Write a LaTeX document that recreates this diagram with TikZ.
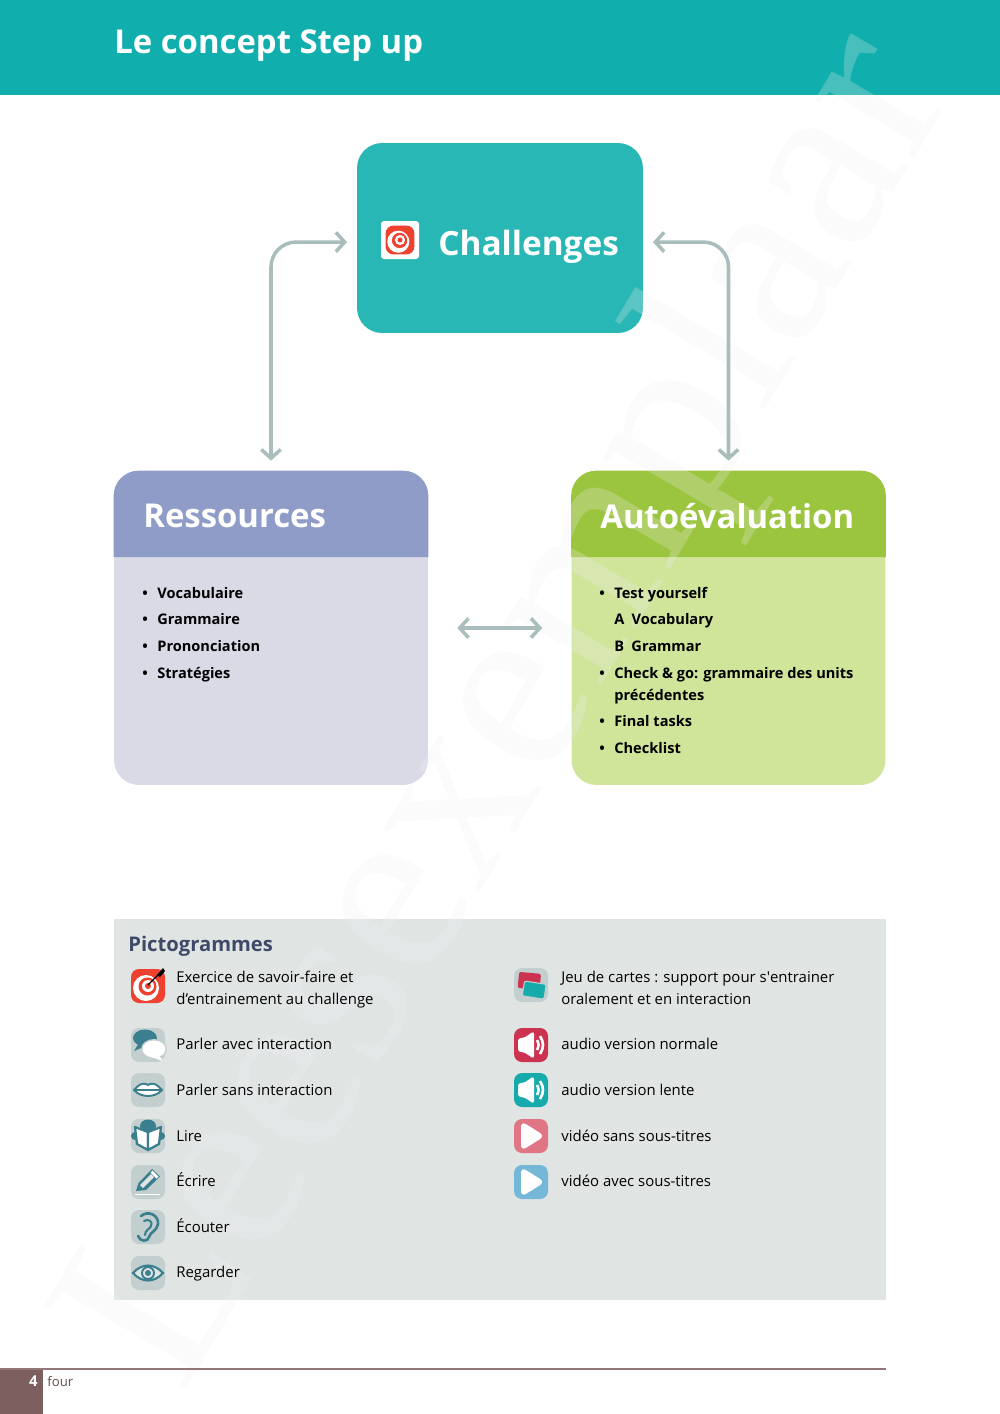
\documentclass[tikz,border=0pt]{standalone}
\usepackage{fontspec}
\setmainfont{Open Sans}
\newfontfamily\markfont{Liberation Serif}
\usetikzlibrary{arrows.meta,calc}
\definecolor{bandteal}{HTML}{10AEAC}
\definecolor{chalteal}{HTML}{29B7B5}
\definecolor{reshead}{HTML}{8F9CC8}
\definecolor{resbody}{HTML}{D9DAE6}
\definecolor{autohead}{HTML}{9BC53F}
\definecolor{autobody}{HTML}{D0E49A}
\definecolor{linkgrey}{HTML}{A9BDBC}
\definecolor{panelgrey}{HTML}{E0E5E4}
\definecolor{pictonavy}{HTML}{3F4A68}
\definecolor{iconbase}{HTML}{C3CFCF}
\definecolor{iconteal}{HTML}{3B7F8E}
\definecolor{targetred}{HTML}{EE4130}
\definecolor{audiored}{HTML}{CB3350}
\definecolor{audioteal}{HTML}{17AAAB}
\definecolor{playrose}{HTML}{E07585}
\definecolor{playblue}{HTML}{74B7D6}
\definecolor{footbrown}{HTML}{7E5F5F}
\tikzset{
  boxbody/.style={rounded corners=.5cm, minimum width=6.28cm, minimum height=6.28cm, inner sep=0pt},
  boxtitle/.style={anchor=west, inner sep=0pt, text=white, font=\fontsize{18.7}{22}\selectfont\bfseries},
  listline/.style={anchor=base west, inner sep=0pt, font=\fontsize{8.3}{10}\selectfont\bfseries},
  pictotext/.style={anchor=base west, inner sep=0pt, font=\fontsize{8.5}{10}\selectfont},
  link/.style={draw=linkgrey, line width=2pt, rounded corners=.5cm, {Straight Barb[length=5pt,width=11pt]}-{Straight Barb[length=5pt,width=11pt]}},
  pics/iconback/.style={code={\fill[#1, rounded corners=.16cm] (-17,-17) rectangle (17,17);}},
  pics/targetmark/.style={code={
    \fill[targetred, rounded corners=.16cm] (-17,-17) rectangle (17,17);
    \fill[white] (-2,2) circle (13);
    \fill[targetred] (-.5,.5) circle (9);
    \fill[white] (0,0) circle (6);
    \fill[targetred] (0,0) circle (3);}},
  pics/speechmark/.style={code={
    \pic {iconback=iconbase};
    \fill[iconteal] (-3,-7) ellipse (12 and 8.5);
    \fill[iconteal] (-9,-2) -- (-14,6) -- (-2,1) -- cycle;
    \fill[iconbase] (6,4) ellipse (13 and 10);
    \fill[white] (6,4) ellipse (11.5 and 8.5);
    \fill[white] (10,9) -- (15,16) -- (3,12) -- cycle;}},
  pics/lipsmark/.style={code={
    \pic {iconback=iconbase};
    \draw[iconteal, fill=white, line width=1.1pt] (-14,0) .. controls (-7,-8) and (-3,-7) .. (0,-5) .. controls (3,-7) and (7,-8) .. (14,0) .. controls (7,8) and (-7,8) .. cycle;
    \draw[iconteal, line width=1.1pt] (-14,0) -- (14,0);}},
  pics/bookmark/.style={code={
    \pic {iconback=iconbase};
    \fill[iconteal] (0,-10) ellipse (8 and 6.5);
    \fill[iconteal] (-13,0) circle (4) (13,0) circle (4);
    \draw[iconteal, fill=white, line width=1.3pt, line join=round] (-13,-9) -- (0,-4) -- (0,14) -- (-11,8) -- cycle;
    \draw[iconteal, fill=white, line width=1.3pt, line join=round] (13,-9) -- (0,-4) -- (0,14) -- (11,8) -- cycle;}},
  pics/pencilmark/.style={code={
    \pic {iconback=iconbase};
    \fill[iconteal, line join=round] (-12,9) -- (-9.5,1) -- (4,-13) -- (12,-5.5) -- (-2,8) -- cycle;
    \fill[panelgrey] (-8,3) -- (3,-8) -- (6,-5) -- (-5,6) -- cycle;
    \fill[white] (4.5,-11.5) -- (10.5,-5.5) -- (8.5,-3.5) -- (2.5,-9.5) -- cycle;
    \draw[white, line width=.8pt] (-13,12.5) -- (12,12.5);}},
  pics/earmark/.style={code={
    \pic {iconback=iconbase};
    \draw[iconteal, line width=1.5pt, line cap=round] (-7,-11) .. controls (0,-17) and (11,-12) .. (10,-3) .. controls (9,4) and (2,5) .. (1,10) .. controls (0,15) and (-8,15) .. (-10,9);
    \draw[iconteal, line width=1.2pt, line cap=round] (-4,-6) .. controls (1,-9) and (5,-5) .. (3,-1) .. controls (2,2) and (-3,3) .. (-3,8);}},
  pics/eyemark/.style={code={
    \pic {iconback=iconbase};
    \draw[iconteal, fill=panelgrey, line width=1.2pt] (-15,0) .. controls (-6,-10) and (6,-10) .. (15,0) .. controls (6,10) and (-6,10) .. cycle;
    \draw[iconteal, line width=1.1pt] (0,0) circle (6);
    \fill[iconteal] (0,0) circle (3);}},
  pics/cardsmark/.style={code={
    \pic {iconback=iconbase};
    \fill[audiored, rounded corners=.04cm, rotate=-5] (-13,-12) rectangle (9,4);
    \draw[iconbase, fill=audioteal, line width=.6pt, rounded corners=.04cm, rotate=-9] (-7,-3) rectangle (15,12);}},
  pics/speakermark/.style={code={
    \pic {iconback=#1};
    \fill[white, rounded corners=.06cm] (-13,-7) -- (-7,-7) -- (3,-14) -- (3,14) -- (-7,7) -- (-13,7) -- cycle;
    \draw[white, line width=1.5pt] (6,-5) .. controls (8,-2) and (8,2) .. (6,5);
    \draw[white, line width=1.5pt] (9,-9) .. controls (13,-3) and (13,3) .. (9,9);}},
  pics/playmark/.style={code={
    \pic {iconback=#1};
    \fill[white, rounded corners=.12cm] (-10,-15) -- (14,0) -- (-10,15) -- cycle;}}
}
\begin{document}
\begin{tikzpicture}[x=0.02cm, y=-0.02cm]
  \useasboundingbox (0,0) rectangle (1000,1414);
  \fill[white] (0,0) rectangle (1000,1414);
  \fill[bandteal] (0,0) rectangle (1000,95);

  \node[boxbody, fill=chalteal, minimum width=5.72cm, minimum height=3.8cm] (challenges) at (500,238) {};
  \node[boxbody, fill=resbody] (ressources) at (271,628) {};
  \fill[reshead] (ressources.west |- 0,557) [rounded corners=.5cm] -- (ressources.north west) -- (ressources.north east) [sharp corners] -- (ressources.east |- 0,557) -- cycle;
  \node[boxbody, fill=autobody] (autoeval) at (728.5,628) {};
  \fill[autohead] (autoeval.west |- 0,557) [rounded corners=.5cm] -- (autoeval.north west) -- (autoeval.north east) [sharp corners] -- (autoeval.east |- 0,557) -- cycle;
  \fill[panelgrey] (114,919) rectangle (886,1300);

  \node[anchor=base west, inner sep=0pt, rotate=59.4, text=gray!12, opacity=.25, font=\markfont\fontsize{142.5}{142.5}\selectfont] (watermark) at (182,1396) {Leesexemplaar};

  \node[anchor=base west, inner sep=0pt, text=white, font=\fontsize{18.7}{22}\selectfont\bfseries] (pagetitle) at (114,53) {Le concept Step up};
  \fill[white, rounded corners=.06cm] (381,221) rectangle (419,259);
  \pic[scale=.85] at (400,240) {targetmark};
  \node[boxtitle, font=\fontsize{19}{22}\selectfont\bfseries] (challengestitle) at (438,247) {Challenges};
  \node[boxtitle] (ressourcestitle) at (143,516) {Ressources};
  \node[boxtitle] (autoevaltitle) at (600,516) {Autoévaluation};

  \foreach \i/\y/\txt in {1/598/Vocabulaire, 2/624/Grammaire, 3/651/Prononciation, 4/678/Stratégies} {
    \node[listline] (resbullet\i) at (142,\y) {•};
    \node[listline] (resline\i) at (157,\y) {\txt};
  }
  \foreach \i/\y in {1/598, 4/678, 6/726, 7/753} {
    \node[listline] (autobullet\i) at (599,\y) {•};
  }
  \foreach \i/\y/\txt in {1/598/Test yourself, 2/624/A\enspace Vocabulary, 3/651/B\enspace Grammar, 4/678/Check \& go: grammaire des units, 5/700/précédentes, 6/726/Final tasks, 7/753/Checklist} {
    \node[listline] (autoline\i) at (614,\y) {\txt};
  }

  \coordinate (resport) at (ressources.east |- 0,628);
  \coordinate (autoport) at (autoeval.west |- 0,628);
  \draw[link, shorten >=5.5pt] ([yshift=5.7pt]ressources.north) |- ([yshift=-2.3pt]challenges.west);
  \draw[link, shorten >=5.5pt] ([yshift=5.7pt]autoeval.north) |- ([yshift=-2.3pt]challenges.east);
  \draw[link, shorten <=16.5pt, shorten >=16.5pt] (resport) -- (autoport);

  \node[anchor=base west, inner sep=0pt, text=pictonavy, font=\fontsize{11.5}{13}\selectfont\bfseries] (pictotitle) at (128,951) {Pictogrammes};

  \pic at (148,986) {targetmark};
  \draw[black, line width=.7pt] (148,985) -- (160,973);
  \fill[black] (157,975) -- (163,968) -- (165,971) -- (160,977) -- cycle;
  \pic at (148,1045) {speechmark};
  \pic at (148,1090) {lipsmark};
  \pic at (148,1136) {bookmark};
  \pic at (148,1182) {pencilmark};
  \pic at (148,1227) {earmark};
  \pic at (148,1273) {eyemark};
  \pic at (531,985) {cardsmark};
  \pic at (531,1045) {speakermark=audiored};
  \pic at (531,1090) {speakermark=audioteal};
  \pic at (531,1136) {playmark=playrose};
  \pic at (531,1182) {playmark=playblue};

  \node[pictotext] (exercice) at (176,982) {Exercice de savoir-faire et};
  \node[pictotext] (exercicetwo) at (176,1004) {d’entrainement au challenge};
  \node[pictotext] (parlerinter) at (176,1049) {Parler avec interaction};
  \node[pictotext] (parlersans) at (176,1095) {Parler sans interaction};
  \node[pictotext] (lire) at (176,1141) {Lire};
  \node[pictotext] (ecrire) at (176,1186) {Écrire};
  \node[pictotext] (ecouter) at (176,1232) {Écouter};
  \node[pictotext] (regarder) at (176,1277) {Regarder};
  \node[pictotext] (jeu) at (561,982) {Jeu de cartes : support pour s\textquotesingle entrainer};
  \node[pictotext] (jeutwo) at (561,1004) {oralement et en interaction};
  \node[pictotext] (audionormale) at (561,1049) {audio version normale};
  \node[pictotext] (audiolente) at (561,1095) {audio version lente};
  \node[pictotext] (videosans) at (561,1141) {vidéo sans sous-titres};
  \node[pictotext] (videoavec) at (561,1186) {vidéo avec sous-titres};

  \fill[footbrown] (0,1369) rectangle (43,1414);
  \draw[footbrown!85!white, line width=.6pt] (0,1369) -- (886,1369);
  \node[anchor=base east, inner sep=0pt, text=white, font=\fontsize{8.5}{10}\selectfont\bfseries] (pagenum) at (38,1386) {4};
  \node[anchor=base west, inner sep=0pt, text=footbrown!80!black, font=\fontsize{7.5}{9}\selectfont] (pageword) at (47,1386) {four};
\end{tikzpicture}
\end{document}
